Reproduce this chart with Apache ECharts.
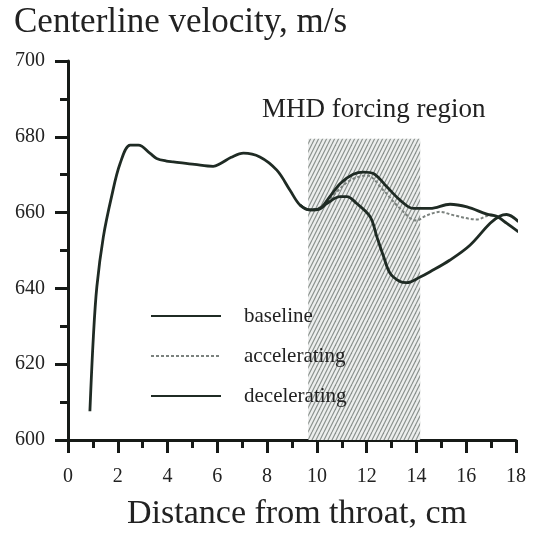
<!DOCTYPE html>
<html>
<head>
<meta charset="utf-8">
<script src="https://cdn.jsdelivr.net/npm/echarts@6/dist/echarts.min.js"></script>
<style>
  html, body { margin: 0; padding: 0; background: #ffffff; }
  #chart { width: 538px; height: 534px; }
</style>
</head>
<body>
<div id="chart"></div>
<script>
// Centerline velocity (m/s) against distance from the throat (cm)
const seriesNames = ['baseline', 'accelerating', 'decelerating'];

const baseline = [
  [0.88, 607.6], [1.02, 627.3], [1.16, 640.5], [1.42, 653.6], [1.75, 664.2],
  [2.09, 672.9], [2.50, 677.8], [2.83, 677.8], [3.30, 675.6], [3.56, 674.3],
  [3.96, 673.6], [4.23, 673.4], [5.09, 672.7], [5.83, 672.2], [6.11, 672.9],
  [6.56, 674.6], [7.05, 675.7], [7.71, 674.7], [8.39, 671.2], [8.92, 665.9],
  [9.32, 662.0], [9.72, 660.7], [10.12, 661.1], [10.52, 664.2], [10.94, 667.7],
  [11.46, 670.1], [11.87, 670.7], [12.27, 670.3], [12.81, 666.8], [13.34, 663.3],
  [13.87, 661.1], [14.55, 661.1], [15.35, 662.2], [16.03, 661.5], [16.83, 659.6],
  [17.23, 659.0], [17.62, 657.2], [18.10, 654.9]
];

const accelerating = [
  [9.32, 662.0], [9.72, 660.7], [10.26, 661.9], [10.77, 665.3], [11.34, 668.5],
  [12.00, 669.8], [12.67, 665.9], [13.34, 661.1], [14.00, 657.9], [14.39, 659.2],
  [14.95, 660.2], [15.49, 659.3], [16.43, 658.2], [16.96, 659.3], [17.23, 659.0]
];

const decelerating = [
  [9.32, 662.0], [9.72, 660.7], [10.12, 661.0], [10.40, 662.4], [10.94, 664.2],
  [11.20, 664.2], [11.60, 662.4], [12.14, 658.9], [12.41, 653.6], [12.68, 648.4],
  [12.94, 644.0], [13.34, 641.8], [13.61, 641.5], [14.15, 643.0], [14.55, 644.4],
  [15.35, 647.5], [16.15, 651.4], [16.96, 657.2], [17.36, 659.1], [17.62, 659.5],
  [18.10, 657.6]
];

// MHD forcing region: x extent (cm) and upper velocity bound (m/s)
const forcingX = [9.65, 14.15];
const forcingTop = 679.5;

const xTicks = { min: 0, max: 18, step: 2 };
const yTicks = { min: 600, max: 700, step: 20 };

const ink = '#1f2b24';
const serif = '"Liberation Serif", "DejaVu Serif", serif';

// Diagonal hatching used to fill the forcing region
function hatchPattern() {
  const size = 16;
  const c = document.createElement('canvas');
  c.width = size; c.height = size;
  const g = c.getContext('2d');
  g.fillStyle = '#eceeed';
  g.fillRect(0, 0, size, size);
  g.strokeStyle = '#868d89';
  g.lineWidth = 1.1;
  for (let k = -size; k <= 2 * size; k += 4) {
    g.beginPath();
    g.moveTo(k, size);
    g.lineTo(k + size / 2, 0);
    g.stroke();
  }
  return c;
}

const chart = echarts.init(document.getElementById('chart'), null, { renderer: 'canvas' });

const axisCommon = {
  axisLine: { show: true, onZero: false, lineStyle: { color: '#161a17', width: 3 } },
  axisTick: { show: true, inside: false, length: 13, lineStyle: { color: '#161a17', width: 3 } },
  minorTick: { show: true, splitNumber: 2, length: 8, lineStyle: { color: '#161a17', width: 3 } },
  splitLine: { show: false },
  minorSplitLine: { show: false }
};

chart.setOption({
  animation: false,
  backgroundColor: '#ffffff',
  grid: { left: 68, right: 22, top: 61, bottom: 94, containLabel: false },
  xAxis: Object.assign({
    type: 'value',
    min: xTicks.min, max: xTicks.max, interval: xTicks.step,
    axisLabel: { margin: 27, fontFamily: serif, fontSize: 20, color: '#222' }
  }, axisCommon),
  yAxis: Object.assign({
    type: 'value',
    min: yTicks.min, max: yTicks.max, interval: yTicks.step,
    axisLabel: { margin: 23, fontFamily: serif, fontSize: 20, color: '#222' }
  }, axisCommon),
  legend: {
    data: seriesNames,
    orient: 'vertical',
    left: 150,
    top: 304,
    padding: 0,
    itemWidth: 70,
    itemHeight: 14,
    itemGap: 16,
    itemStyle: { opacity: 0 },
    textStyle: { fontFamily: serif, fontSize: 21, color: '#222', lineHeight: 24, padding: [0, 0, 0, 18] }
  },
  graphic: [
    {
      type: 'text', x: 14, y: 23,
      style: { text: 'Centerline velocity, m/s', font: '35px ' + serif, fill: '#222', verticalAlign: 'middle' }
    },
    {
      type: 'text', x: 262, y: 110,
      style: { text: 'MHD forcing region', font: '27px ' + serif, fill: '#222', verticalAlign: 'middle' }
    },
    {
      type: 'text', x: 297, y: 514,
      style: { text: 'Distance from throat, cm', font: '34px ' + serif, fill: '#222', align: 'center', verticalAlign: 'middle' }
    }
  ],
  series: [
    {
      name: 'forcing',
      type: 'line',
      data: [],
      z: 1,
      silent: true,
      markArea: {
        silent: true,
        itemStyle: { color: { image: hatchPattern(), repeat: 'repeat' } },
        data: [[{ xAxis: forcingX[0], yAxis: yTicks.min }, { xAxis: forcingX[1], yAxis: forcingTop }]]
      }
    },
    {
      name: 'accelerating',
      type: 'line',
      data: accelerating,
      z: 3,
      symbol: 'none',
      smooth: 0.35,
      lineStyle: { color: '#7b827e', width: 2, type: [3, 2] },
      itemStyle: { color: '#7b827e' }
    },
    {
      name: 'decelerating',
      type: 'line',
      data: decelerating,
      z: 4,
      symbol: 'none',
      smooth: 0.35,
      lineStyle: { color: ink, width: 2.8 },
      itemStyle: { color: ink }
    },
    {
      name: 'baseline',
      type: 'line',
      data: baseline,
      z: 5,
      symbol: 'none',
      smooth: 0.35,
      lineStyle: { color: ink, width: 2.8 },
      itemStyle: { color: ink }
    }
  ]
});
</script>
</body>
</html>
